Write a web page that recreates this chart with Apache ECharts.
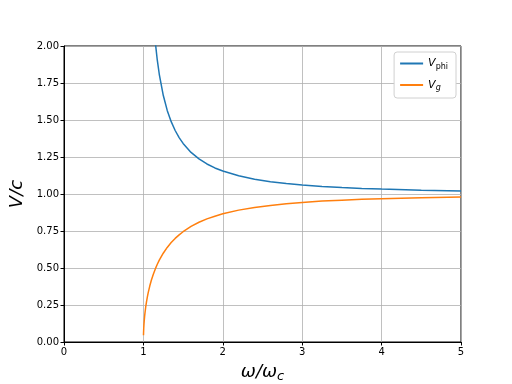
<!DOCTYPE html>
<html><head><meta charset="utf-8">
<script src="https://cdn.jsdelivr.net/npm/echarts@6/dist/echarts.min.js"></script>
<style>html,body{margin:0;padding:0;background:#fff}#c{width:512px;height:384px}</style>
</head><body><div id="c"></div>
<script>
var xPhi = [1.1, 1.125, 1.15, 1.175, 1.2, 1.25, 1.3, 1.35, 1.4, 1.45, 1.5, 1.6, 1.7, 1.8, 1.9, 2.0, 2.2, 2.4, 2.6, 2.8, 3.0, 3.25, 3.5, 3.75, 4.0, 4.5, 5.0];
var vPhi = [2.400, 2.183, 2.025, 1.904, 1.809, 1.667, 1.565, 1.489, 1.429, 1.381, 1.342, 1.281, 1.237, 1.203, 1.176, 1.155, 1.123, 1.100, 1.083, 1.071, 1.061, 1.051, 1.044, 1.038, 1.033, 1.026, 1.021];
var xG = [1.001, 1.002, 1.004, 1.007, 1.01, 1.015, 1.02, 1.03, 1.04, 1.05, 1.06, 1.08, 1.1, 1.125, 1.15, 1.175, 1.2, 1.25, 1.3, 1.35, 1.4, 1.45, 1.5, 1.6, 1.7, 1.8, 1.9, 2.0, 2.2, 2.4, 2.6, 2.8, 3.0, 3.25, 3.5, 3.75, 4.0, 4.5, 5.0];
var vG = [0.045, 0.063, 0.089, 0.118, 0.140, 0.171, 0.197, 0.240, 0.275, 0.305, 0.332, 0.378, 0.417, 0.458, 0.494, 0.525, 0.553, 0.600, 0.639, 0.672, 0.700, 0.724, 0.745, 0.781, 0.809, 0.832, 0.850, 0.866, 0.891, 0.909, 0.923, 0.934, 0.943, 0.952, 0.958, 0.964, 0.968, 0.975, 0.980];
var xTicks = [0, 1, 2, 3, 4, 5];
var yTicks = [0, 0.25, 0.5, 0.75, 1.0, 1.25, 1.5, 1.75, 2.0];

function pairs(xs, ys){ return xs.map(function(x,i){ return [x, ys[i]]; }); }
var font = 'DejaVu Sans';
var chart = echarts.init(document.getElementById('c'), null, {renderer:'canvas'});
chart.setOption({
  animation:false,
  textStyle:{fontFamily:font},
  grid:{left:64, right:51, top:46, bottom:42, containLabel:false, outerBoundsMode:'none',
        show:true, borderColor:'#000', borderWidth:1, backgroundColor:'transparent'},
  legend:{
    orient:'vertical', right:56, top:52,
    backgroundColor:'#fff', borderColor:'#d0d0d0', borderWidth:1, borderRadius:3,
    padding:[6,8,6,6], itemGap:9, itemWidth:23, itemHeight:2, icon:'rect',
    textStyle:{fontFamily:font, fontSize:11, color:'#000', rich:{
      v:{fontStyle:'italic', fontSize:11, fontFamily:font},
      s:{fontSize:8, fontFamily:font, padding:[6,0,0,0]},
      si:{fontSize:8, fontStyle:'italic', fontFamily:font, padding:[6,0,0,0]}
    }},
    formatter:function(n){ return n==='vphi' ? '{v|V}{s|phi}' : '{v|V}{si|g}'; },
    data:['vphi','vg']
  },
  xAxis:{
    type:'value', min:xTicks[0], max:xTicks[xTicks.length-1], interval:1,
    name:'{a|ω/ω}{s|c}', nameLocation:'middle', nameGap:19,
    nameTextStyle:{rich:{
      a:{fontSize:18, fontStyle:'italic', fontFamily:font, color:'#000'},
      s:{fontSize:13, fontStyle:'italic', fontFamily:font, color:'#000', padding:[9,0,0,0]}
    }},
    axisLine:{lineStyle:{color:'#000', width:1}},
    axisTick:{length:3.5, lineStyle:{color:'#000'}},
    axisLabel:{color:'#000', fontSize:10, margin:5, fontFamily:font},
    splitLine:{show:true, lineStyle:{color:'#b0b0b0', width:0.8}}
  },
  yAxis:{
    type:'value', min:yTicks[0], max:yTicks[yTicks.length-1], interval:0.25,
    name:'V/c', nameLocation:'middle', nameGap:37, nameRotate:90,
    nameTextStyle:{fontSize:18, fontStyle:'italic', fontFamily:font, color:'#000'},
    axisLine:{show:true, lineStyle:{color:'#000', width:1}},
    axisTick:{show:true, length:3.5, lineStyle:{color:'#000'}},
    axisLabel:{color:'#000', fontSize:10, margin:5, fontFamily:font, formatter:function(v){return v.toFixed(2);}},
    splitLine:{show:true, lineStyle:{color:'#b0b0b0', width:0.8}}
  },
  series:[
    {name:'vphi', type:'line', data:pairs(xPhi, vPhi), showSymbol:false, symbol:'none', clip:true,
     smooth:false, lineStyle:{color:'#1f77b4', width:1.5}, itemStyle:{color:'#1f77b4'}},
    {name:'vg', type:'line', data:pairs(xG, vG), showSymbol:false, symbol:'none', clip:true,
     smooth:false, lineStyle:{color:'#ff7f0e', width:1.5}, itemStyle:{color:'#ff7f0e'}}
  ]
});
</script></body></html>
